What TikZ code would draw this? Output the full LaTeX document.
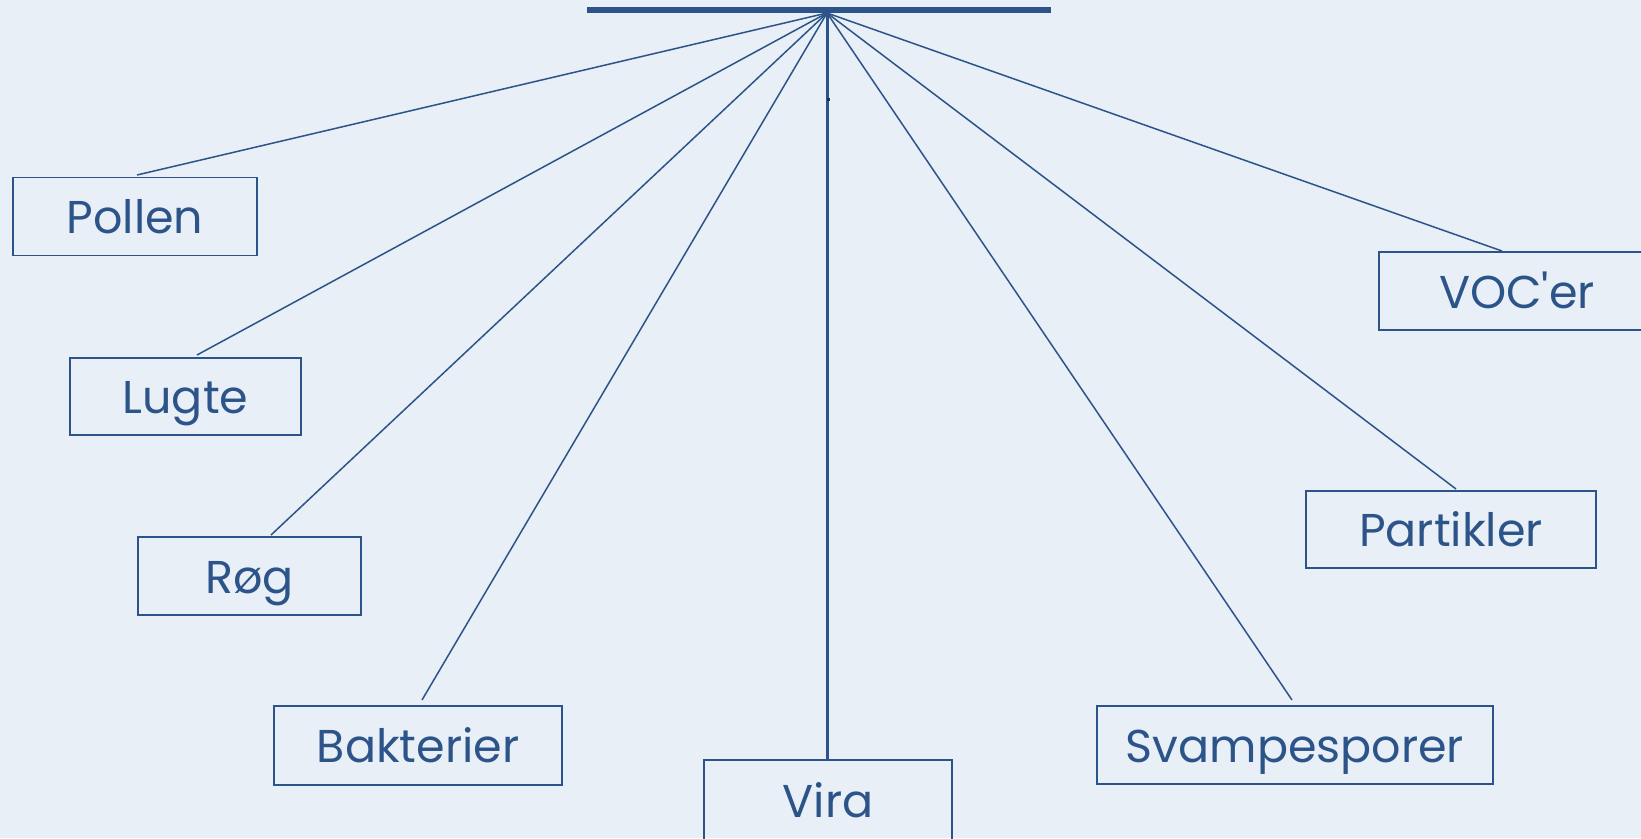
\documentclass[tikz,border=0pt]{standalone}
\usepackage{fontspec}
\setmainfont{Poppins}
\definecolor{bg}{HTML}{E8EFF7}
\definecolor{ink}{HTML}{2C5489}
\begin{document}
\begin{tikzpicture}[x=1pt,y=-1pt,
  box/.style={draw=ink, line width=1.8pt, inner sep=0pt, text=ink,
    text height=40pt, text depth=6pt,
    font=\fontsize{46}{50}\selectfont},
  spoke/.style={draw=ink, line width=1.5pt}]
\fill[bg] (0,0) rectangle (1641,838);
\useasboundingbox (0,0) rectangle (1641,838);
% top bar
\coordinate (barL) at (587,10);
\coordinate (barR) at (1051,10);
\draw[ink, line width=6pt] (barL) -- (barR);
\coordinate (hub) at (827,13);
% boxes
\node[box, minimum width=244pt, minimum height=78pt] (pollen) at (135,216.5) {Pollen};
\node[box, minimum width=231pt, minimum height=77pt] (lugte) at (185.5,396.5) {Lugte};
\node[box, minimum width=223pt, minimum height=78pt] (rog) at (249.5,576) {Røg};
\node[box, minimum width=288pt, minimum height=79pt] (bakt) at (418,745.5) {Bakterier};
\node[box, minimum width=248pt, minimum height=80pt] (vira) at (828,800) {Vira};
\node[box, minimum width=396pt, minimum height=78pt] (svamp) at (1295,745) {Svampesporer};
\node[box, minimum width=290pt, minimum height=77pt] (part) at (1451,529.5) {Partikler};
\node[box, minimum width=276pt, minimum height=78pt] (voc) at (1517,291) {VOC\textquotesingle er};
% spoke ends
\coordinate (ePollen) at (137,175);
\coordinate (eLugte) at (197,355);
\coordinate (eRog) at (271,535);
\coordinate (eBakt) at (422,700);
\coordinate (eSvamp) at (1292,700);
\coordinate (ePart) at (1456,489);
\coordinate (eVoc) at (1502,251);
\foreach \e in {ePollen,eLugte,eRog,eBakt,eSvamp,ePart,eVoc}
  \draw[spoke] (hub) -- (\e);
\draw[ink, line width=3pt] (hub) -- (vira.north -| hub);
\fill[ink!60!black] (827,98) rectangle (829.5,100.5);
\end{tikzpicture}
\end{document}
